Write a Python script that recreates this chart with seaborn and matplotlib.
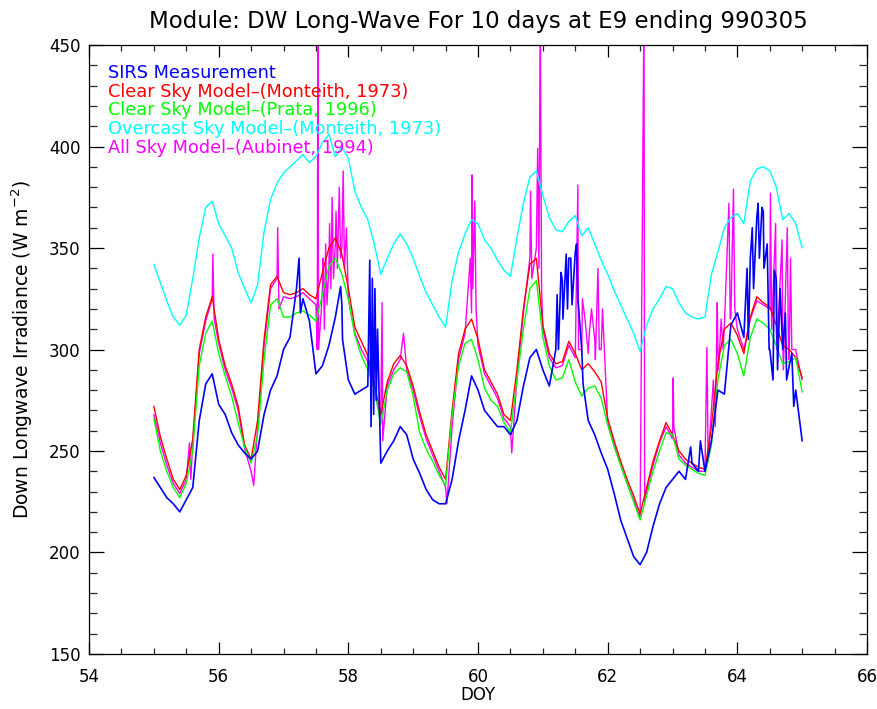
import numpy as np
import pandas as pd
import matplotlib
matplotlib.use("Agg")
import matplotlib.pyplot as plt
from matplotlib.ticker import MultipleLocator
import seaborn as sns

# sample days, 0.1 day apart
doy = np.round(np.linspace(55.0, 65.0, 101), 2)

sirs = [237, 232, 227, 224, 220, 226, 232, 265, 283, 288,
        273, 268, 259, 253, 249, 246, 250, 268, 280, 287,
        300, 306, 330, 325, 314, 288, 292, 302, 316, 322,
        285, 278, 280, 282, 300, 244, 250, 255, 262, 258,
        246, 239, 231, 226, 224, 224, 236, 255, 270, 287,
        280, 270, 266, 262, 262, 258, 265, 282, 296, 300,
        290, 282, 300, 334, 345, 348, 300, 265, 258, 249,
        241, 229, 216, 207, 198, 194, 200, 213, 224, 232,
        236, 240, 236, 244, 240, 240, 255, 280, 278, 312,
        318, 306, 345, 365, 368, 300, 335, 300, 292, 280,
        255]

clear_monteith = [272, 257, 246, 236, 231, 238, 256, 300, 316, 326,
                  305, 292, 283, 272, 253, 246, 265, 305, 332, 336,
                  328, 327, 328, 330, 327, 325, 338, 350, 355, 347,
                  330, 311, 304, 297, 283, 268, 284, 293, 297, 292,
                  282, 269, 258, 250, 242, 236, 270, 298, 310, 315,
                  305, 290, 284, 278, 268, 265, 290, 320, 342, 345,
                  312, 298, 293, 294, 304, 298, 290, 293, 289, 284,
                  266, 255, 245, 236, 228, 219, 232, 245, 255, 264,
                  258, 250, 246, 244, 242, 241, 262, 293, 310, 313,
                  307, 298, 316, 326, 323, 321, 312, 302, 300, 296,
                  286]

clear_prata = [266, 250, 240, 232, 227, 234, 250, 292, 308, 314,
               298, 287, 277, 264, 252, 244, 258, 295, 322, 325,
               316, 316, 318, 319, 317, 314, 327, 341, 345, 337,
               325, 307, 297, 290, 281, 263, 280, 288, 291, 289,
               277, 259, 251, 245, 238, 233, 268, 292, 303, 305,
               295, 281, 275, 272, 264, 259, 285, 310, 330, 334,
               306, 292, 285, 286, 295, 284, 277, 281, 282, 276,
               263, 252, 243, 234, 225, 216, 228, 240, 250, 259,
               258, 246, 243, 241, 239, 238, 253, 285, 302, 305,
               298, 287, 306, 315, 313, 310, 302, 293, 294, 296,
               279]

overcast = [342, 333, 324, 316, 312, 317, 335, 355, 370, 373,
            362, 356, 350, 338, 330, 323, 332, 358, 374, 382,
            387, 390, 393, 396, 392, 395, 402, 406, 395, 400,
            394, 378, 370, 364, 352, 337, 345, 352, 357, 352,
            345, 336, 328, 322, 316, 311, 334, 348, 357, 364,
            362, 354, 350, 344, 339, 336, 355, 372, 385, 388,
            376, 365, 359, 358, 363, 366, 356, 360, 352, 344,
            337, 329, 322, 315, 308, 299, 312, 320, 325, 331,
            330, 323, 318, 316, 315, 316, 337, 348, 360, 365,
            367, 362, 383, 389, 390, 388, 380, 364, 367, 362,
            350]

all_sky = [268, 254, 243, 234, 229, 236, 254, 298, 314, 325,
           303, 290, 281, 270, 251, 240, 262, 302, 330, 335,
           326, 325, 326, 328, 325, 322, 330, 340, 352, 350,
           325, 308, 300, 294, 280, 266, 282, 290, 295, 290,
           280, 267, 256, 248, 240, 232, 262, 295, 308, 318,
           302, 288, 282, 276, 266, 262, 286, 318, 345, 350,
           310, 296, 291, 292, 302, 296, 300, 298, 305, 300,
           264, 253, 243, 234, 226, 217, 230, 243, 254, 262,
           256, 248, 244, 242, 240, 240, 270, 300, 312, 316,
           310, 300, 315, 324, 322, 320, 310, 305, 298, 300,
           285]

# short spikes between the 0.1 day samples
sirs_spike_doy = [57.24, 57.26, 57.88, 57.91, 58.33, 58.35, 58.37, 58.39, 58.41, 58.43, 58.45,
                  61.22, 61.24, 61.28, 61.31, 61.36, 61.38, 61.43, 61.45, 61.52, 61.54, 61.62,
                  63.28, 63.43, 64.15, 64.17, 64.23, 64.25, 64.32, 64.34, 64.38, 64.41,
                  64.46, 64.49, 64.55, 64.57, 64.62, 64.66, 64.74, 64.76, 64.84, 64.87]
sirs_spike_val = [345, 318, 331, 305, 344, 262, 335, 268, 330, 275, 310,
                  327, 300, 338, 315, 347, 320, 345, 322, 352, 325, 283,
                  252, 255, 340, 305, 360, 330, 372, 345, 370, 340,
                  352, 300, 285, 339, 290, 330, 318, 285, 298, 272]

all_sky_spike_doy = [55.55, 55.57, 55.91, 55.93, 56.54, 56.91, 56.93,
                     57.52, 57.53, 57.54, 57.58, 57.61, 57.63, 57.65, 57.67, 57.71, 57.73,
                     57.75, 57.77, 57.81, 57.83, 57.86, 57.88, 57.92, 57.94, 57.97,
                     58.52, 58.53, 58.85, 59.52, 59.88, 59.91, 59.92, 59.95, 59.97,
                     60.52, 60.81, 60.83, 60.92, 60.94, 60.96, 60.98,
                     61.54, 61.55, 61.61, 61.65, 61.71, 61.75, 61.81, 61.85, 61.87, 61.92,
                     62.56, 62.57, 63.01, 63.02,
                     63.53, 63.55, 63.63, 63.66, 63.69, 63.71, 63.75, 63.78, 63.87, 63.89,
                     63.94, 63.96, 64.51, 64.53, 64.59, 64.61, 64.69, 64.71, 64.77, 64.79,
                     64.82, 64.84, 64.91]
all_sky_spike_val = [254, 236, 347, 315, 233, 360, 320,
                     300, 470, 300, 318, 345, 310, 352, 322, 362, 330,
                     375, 335, 368, 340, 380, 345, 388, 340, 360,
                     323, 255, 308, 224, 345, 386, 330, 373, 320,
                     249, 378, 335, 399, 340, 470, 330,
                     381, 300, 325, 315, 305, 320, 295, 340, 300, 320,
                     470, 225, 286, 262,
                     301, 245, 285, 262, 323, 290, 315, 300, 372, 315,
                     379, 320, 377, 310, 362, 300, 354, 290, 360, 295,
                     345, 300, 298]

legend_labels = ["SIRS Measurement",
                 "Clear Sky Model\u2013(Monteith, 1973)",
                 "Clear Sky Model\u2013(Prata, 1996)",
                 "Overcast Sky Model\u2013(Monteith, 1973)",
                 "All Sky Model\u2013(Aubinet, 1994)"]
colors = ["#0000ff", "#ff0000", "#00ff00", "#00ffff", "#ff00ff"]


def series(base, extra_doy=(), extra_val=()):
    df = pd.DataFrame({"doy": np.concatenate([doy, extra_doy]),
                       "val": np.concatenate([base, extra_val])})
    return df.sort_values("doy").reset_index(drop=True)


sns.set_theme(style="ticks")
plt.rcParams["font.family"] = ["DejaVu Sans"]
plt.rcParams["text.color"] = "black"
plt.rcParams["axes.labelcolor"] = "black"

fig = plt.figure(figsize=(8.78, 7.09), dpi=100)
ax = fig.add_axes([0.1014, 0.0776, 0.8861, 0.8589])

# draw order: all sky underneath, measurement on top
sns.lineplot(data=series(all_sky, all_sky_spike_doy, all_sky_spike_val), x="doy", y="val",
             estimator=None, sort=False, color=colors[4], lw=1.0, ax=ax)
sns.lineplot(data=series(clear_monteith), x="doy", y="val",
             estimator=None, sort=False, color=colors[1], lw=1.0, ax=ax)
sns.lineplot(data=series(clear_prata), x="doy", y="val",
             estimator=None, sort=False, color=colors[2], lw=1.0, ax=ax)
sns.lineplot(data=series(overcast), x="doy", y="val",
             estimator=None, sort=False, color=colors[3], lw=1.0, ax=ax)
sns.lineplot(data=series(sirs, sirs_spike_doy, sirs_spike_val), x="doy", y="val",
             estimator=None, sort=False, color=colors[0], lw=1.2, ax=ax)

ax.set_xlim(54, 66)
ax.set_ylim(150, 450)
ax.xaxis.set_major_locator(MultipleLocator(2))
ax.xaxis.set_minor_locator(MultipleLocator(0.5))
ax.yaxis.set_major_locator(MultipleLocator(50))
ax.yaxis.set_minor_locator(MultipleLocator(10))
ax.tick_params(axis="x", which="major", direction="in", length=8.5, width=0.9,
               top=True, labelsize=12, pad=10, colors="black")
ax.tick_params(axis="x", which="minor", direction="in", length=4.3, width=0.9, top=True)
ax.tick_params(axis="y", which="major", direction="in", length=11, width=0.9,
               right=True, labelsize=12, pad=6, colors="black")
ax.tick_params(axis="y", which="minor", direction="in", length=5.5, width=0.9, right=True)
for sp in ax.spines.values():
    sp.set_color("black")
    sp.set_linewidth(0.9)

ax.set_xlabel("DOY", fontsize=12, labelpad=0)
ax.set_ylabel("Down Longwave Irradiance (W m$^{-2}$)", fontsize=13.5, labelpad=10)
ax.set_title("Module: DW Long-Wave For 10 days at E9 ending 990305",
             fontsize=16.5, pad=12, color="black")

for i, (lab, col) in enumerate(zip(legend_labels, colors)):
    ax.text(0.0244, 0.954 - i * 0.0307, lab, color=col, fontsize=12.8,
            transform=ax.transAxes, va="center", ha="left")

fig.savefig("out.png", dpi=100)
